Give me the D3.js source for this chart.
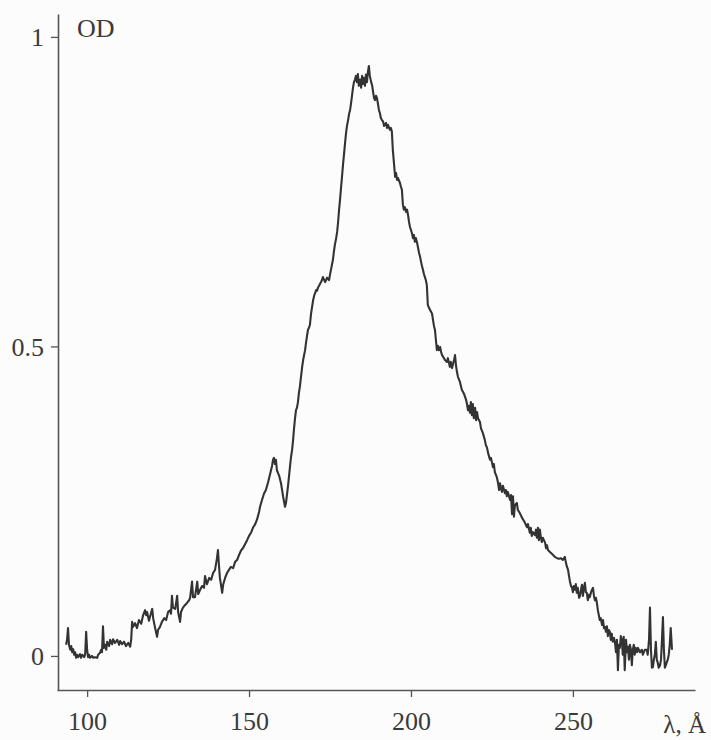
<!DOCTYPE html>
<html>
<head>
<meta charset="utf-8">
<script src="https://cdn.jsdelivr.net/npm/d3@7"></script>
<style>
  html, body { margin: 0; padding: 0; background: #fcfcfc; }
  svg { display: block; }
</style>
</head>
<body>
<svg id="chart" width="711" height="740"></svg>
<script>
// ---- data ----
const xTickValues = [100, 150, 200, 250];
const yTickValues = [0, 0.5, 1];
const yTickLabels = ["0", "0.5", "1"];
const yAxisTitle = "OD";
const xAxisTitle = "λ, Å";

// [wavelength (Å), optical density]
const spectrum = [
[93.5,.018],[93.8,.026],[94.1,.045],[94.4,.018],[94.8,.010],[95.1,.016],[95.4,.006],[95.7,.011],[96.0,.002],[96.3,.006],
[96.6,-.003],[96.9,.002],[97.2,-.002],[97.8,.003],[98.1,-.003],[98.5,.002],[99.1,-.002],[99.4,.003],[99.7,.039],[100.0,.010],
[100.3,-.002],[100.6,.002],[100.9,-.003],[101.5,0],[101.9,-.003],[102.5,-.002],[103.1,-.003],[103.4,.002],[104.0,.005],[104.3,.010],
[104.6,.006],[104.9,.048],[105.2,.013],[105.6,.018],[105.9,.010],[106.2,.023],[106.8,.016],[107.1,.026],[107.7,.019],[108.0,.027],
[108.6,.021],[109.3,.026],[109.9,.018],[110.2,.024],[110.8,.019],[111.4,.023],[112.0,.016],[112.7,.021],[113.3,.015],[113.6,.026],
[113.9,.055],[114.2,.047],[114.8,.053],[115.4,.045],[116.0,.058],[116.7,.052],[117.3,.066],[117.9,.074],[118.2,.066],[118.5,.071],
[119.1,.057],[119.4,.063],[120.1,.076],[120.4,.061],[121.0,.045],[121.6,.031],[121.9,.042],[122.5,.047],[123.1,.055],[123.8,.061],
[124.4,.058],[125.0,.071],[125.6,.074],[125.9,.068],[126.2,.097],[126.5,.078],[127.2,.076],[127.8,.097],[128.1,.071],[128.7,.055],
[129.0,.071],[129.6,.078],[130.2,.082],[130.9,.086],[131.5,.090],[131.8,.094],[132.4,.120],[132.7,.095],[133.3,.095],[134.0,.120],
[134.3,.100],[134.9,.107],[135.5,.113],[136.1,.110],[136.4,.129],[137.0,.116],[137.7,.126],[138.3,.123],[138.9,.134],[139.5,.139],
[140.1,.158],[140.4,.171],[140.7,.147],[141.0,.126],[141.7,.102],[142.0,.115],[142.6,.126],[143.2,.134],[143.8,.139],[144.4,.144],
[145.1,.142],[145.7,.152],[146.3,.155],[146.9,.163],[147.5,.170],[148.1,.174],[148.8,.181],[149.4,.187],[150.0,.194],[150.6,.199],
[151.2,.207],[151.9,.213],[152.5,.221],[153.1,.233],[153.4,.241],[154.0,.252],[154.6,.262],[155.2,.268],[155.9,.281],[156.5,.294],
[157.1,.307],[157.4,.317],[157.7,.320],[158.0,.310],[158.3,.317],[158.6,.300],[159.3,.291],[159.9,.278],[160.5,.258],[161.1,.241],
[161.4,.247],[161.7,.260],[162.0,.273],[162.3,.288],[162.7,.309],[163.0,.323],[163.3,.333],[163.6,.349],[163.9,.368],[164.2,.384],
[164.5,.397],[164.8,.401],[165.1,.410],[165.4,.425],[165.7,.435],[166.0,.449],[166.4,.467],[166.7,.478],[167.0,.486],[167.3,.494],
[167.6,.506],[167.9,.517],[168.2,.527],[168.5,.530],[168.8,.535],[169.1,.551],[169.4,.562],[169.8,.575],[170.1,.582],[170.4,.586],
[170.7,.591],[171.0,.590],[171.3,.595],[171.9,.601],[172.5,.607],[172.8,.612],[173.5,.604],[174.1,.611],[174.7,.607],[175.0,.616],
[175.3,.624],[175.6,.632],[175.9,.640],[176.2,.653],[176.5,.664],[176.9,.675],[177.2,.685],[177.5,.701],[177.8,.721],[178.1,.737],
[178.4,.756],[178.7,.774],[179.0,.793],[179.3,.809],[179.6,.826],[179.9,.842],[180.2,.855],[180.6,.866],[180.9,.876],[181.2,.882],
[181.5,.893],[181.8,.905],[182.1,.918],[182.4,.927],[182.7,.931],[183.0,.937],[183.3,.927],[183.6,.940],[183.9,.921],[184.3,.931],
[184.6,.918],[184.9,.937],[185.2,.924],[185.5,.934],[185.8,.921],[186.1,.939],[186.4,.927],[186.7,.943],[187.0,.953],[187.3,.937],
[187.7,.927],[188.0,.922],[188.3,.911],[188.6,.901],[188.9,.898],[189.2,.905],[189.5,.901],[189.8,.892],[190.1,.882],[190.4,.877],
[190.7,.869],[191.0,.866],[191.4,.863],[191.7,.856],[192.3,.861],[192.6,.853],[192.9,.858],[193.5,.850],[193.8,.853],[194.1,.847],
[194.4,.817],[194.8,.793],[195.1,.774],[195.4,.780],[195.7,.769],[196.0,.772],[196.6,.764],[196.9,.758],[197.2,.753],[197.5,.729],
[197.8,.721],[198.1,.725],[198.5,.717],[198.8,.721],[199.1,.712],[199.4,.701],[199.7,.693],[200.0,.688],[200.3,.683],[200.6,.675],
[200.9,.680],[201.2,.669],[201.5,.675],[201.9,.667],[202.2,.659],[202.5,.651],[202.8,.645],[203.1,.637],[203.4,.630],[203.7,.624],
[204.0,.617],[204.3,.612],[204.6,.607],[204.9,.599],[205.2,.567],[205.6,.562],[205.9,.559],[206.2,.556],[206.5,.553],[206.8,.543],
[207.1,.533],[207.4,.527],[207.7,.510],[208.0,.494],[208.3,.501],[208.6,.494],[209.0,.499],[209.3,.491],[209.6,.486],[210.2,.481],
[210.5,.478],[211.1,.475],[211.4,.481],[212.0,.467],[212.3,.475],[212.7,.465],[213.0,.472],[213.3,.478],[213.6,.486],[213.9,.469],
[214.2,.459],[214.5,.451],[215.1,.443],[215.7,.430],[216.4,.423],[217.0,.414],[217.3,.407],[217.6,.397],[217.9,.404],[218.2,.393],
[218.5,.410],[218.8,.389],[219.1,.407],[219.4,.384],[219.8,.401],[220.1,.381],[220.4,.394],[220.7,.384],[221.3,.378],[221.6,.368],
[222.2,.360],[222.8,.349],[223.1,.341],[223.5,.336],[223.8,.328],[224.4,.317],[224.7,.320],[225.3,.305],[225.6,.310],[225.9,.297],
[226.5,.289],[226.9,.279],[227.2,.268],[227.5,.279],[227.8,.271],[228.1,.265],[228.4,.275],[229.0,.263],[229.3,.268],[229.6,.258],
[229.9,.265],[230.6,.252],[230.9,.260],[231.2,.229],[231.5,.258],[231.8,.225],[232.1,.244],[232.7,.247],[233.0,.236],[233.6,.231],
[234.3,.223],[234.9,.218],[235.2,.215],[235.8,.208],[236.1,.213],[236.7,.199],[237.0,.207],[237.3,.194],[237.7,.200],[238.3,.195],
[238.6,.204],[238.9,.191],[239.2,.207],[239.5,.187],[239.8,.204],[240.1,.192],[240.4,.184],[240.7,.191],[241.4,.183],[241.7,.174],
[242.0,.179],[242.3,.171],[242.9,.168],[243.5,.165],[244.1,.162],[244.4,.160],[245.1,.158],[245.7,.157],[246.3,.158],[246.9,.155],
[247.5,.160],[247.8,.152],[248.1,.145],[248.5,.139],[248.8,.129],[249.1,.120],[249.4,.113],[249.7,.111],[250.0,.103],[250.3,.113],
[250.6,.107],[250.9,.116],[251.2,.102],[251.5,.110],[251.9,.094],[252.2,.097],[252.5,.107],[252.8,.115],[253.1,.097],[253.4,.110],
[253.7,.118],[254.0,.103],[254.3,.102],[254.6,.090],[255.0,.099],[255.2,.095],[255.6,.103],[255.9,.107],[256.2,.110],[256.5,.097],
[256.8,.090],[257.1,.094],[257.4,.086],[257.7,.074],[258.0,.066],[258.3,.058],[258.6,.061],[259.0,.050],[259.3,.058],[259.6,.045],
[259.9,.047],[260.2,.039],[260.5,.048],[260.8,.032],[261.1,.042],[261.4,.039],[261.7,.026],[262.0,.036],[262.3,.023],[262.7,.029],
[263.0,.021],[263.3,.006],[263.6,.026],[263.9,-.023],[264.2,.018],[264.5,.013],[264.8,.032],[265.1,.026],[265.4,.002],[265.7,.031],
[266.0,-.023],[266.4,.026],[266.7,.006],[267.0,.015],[267.3,-.006],[267.6,.018],[267.9,.010],[268.2,-.015],[268.5,.010],[268.8,.018],
[269.1,.002],[269.4,.013],[269.8,.006],[270.1,.013],[270.7,.006],[271.3,.010],[271.6,.002],[272.2,.010],[272.8,.010],[273.1,.002],
[273.5,.026],[273.8,.078],[274.1,.010],[274.4,-.019],[274.7,-.018],[275.0,-.006],[275.3,.002],[275.6,.023],[275.9,-.006],[276.2,-.011],
[276.5,-.019],[276.9,-.015],[277.2,-.006],[277.5,.026],[277.8,.063],[278.1,.010],[278.4,-.019],[278.7,-.015],[279.0,-.010],[279.3,-.006],
[279.6,.002],[279.9,.018],[280.2,.045],[280.6,.010]
];

// ---- drawing ----
const svg = d3.select("#chart");
const FONT = "'Liberation Serif', 'Times New Roman', serif";
const INK = "#333333";
const TEXT = "#3a3a3a";

// scales: axes extend a bit beyond the data range like the original figure
const x = d3.scaleLinear().domain([90.7, 287.7]).range([57, 695]);
const y = d3.scaleLinear().domain([-0.055, 1.037]).range([690, 14]);

// x axis
const xAxis = svg.append("g")
  .attr("transform", `translate(0,${y.range()[0]})`)
  .call(d3.axisBottom(x).tickValues(xTickValues).tickSize(7).tickSizeOuter(0).tickFormat(d3.format("d")));
xAxis.select(".domain").attr("stroke", "#555").attr("stroke-width", 1.6);
xAxis.selectAll(".tick line").attr("stroke", "#555").attr("stroke-width", 1.3);
xAxis.selectAll(".tick text")
  .attr("y", 40).attr("dy", 0)
  .attr("fill", TEXT)
  .style("font-family", FONT).style("font-size", "26px");

// y axis
const yAxis = svg.append("g")
  .attr("transform", `translate(58,0)`)
  .call(d3.axisLeft(y).tickValues(yTickValues).tickSize(7).tickSizeOuter(0)
    .tickFormat((d, i) => yTickLabels[i]));
yAxis.select(".domain").attr("stroke", "#555").attr("stroke-width", 1.6);
yAxis.selectAll(".tick line").attr("stroke", "#555").attr("stroke-width", 1.3);
yAxis.selectAll(".tick text")
  .attr("x", -14).attr("dy", "0.33em")
  .attr("fill", TEXT)
  .style("font-family", FONT).style("font-size", "26px");

// axis titles
svg.append("text")
  .attr("x", 77).attr("y", 37)
  .attr("fill", TEXT)
  .style("font-family", FONT).style("font-size", "26px")
  .text(yAxisTitle);

svg.append("text")
  .attr("x", 706).attr("y", 733)
  .attr("text-anchor", "end")
  .attr("fill", TEXT)
  .style("font-family", FONT).style("font-size", "25px")
  .text(xAxisTitle);

// spectrum line
const line = d3.line().x(d => x(d[0])).y(d => y(d[1]));
svg.append("path")
  .datum(spectrum)
  .attr("fill", "none")
  .attr("stroke", INK)
  .attr("stroke-width", 2.1)
  .attr("stroke-linejoin", "round")
  .attr("d", line);
</script>
</body>
</html>
